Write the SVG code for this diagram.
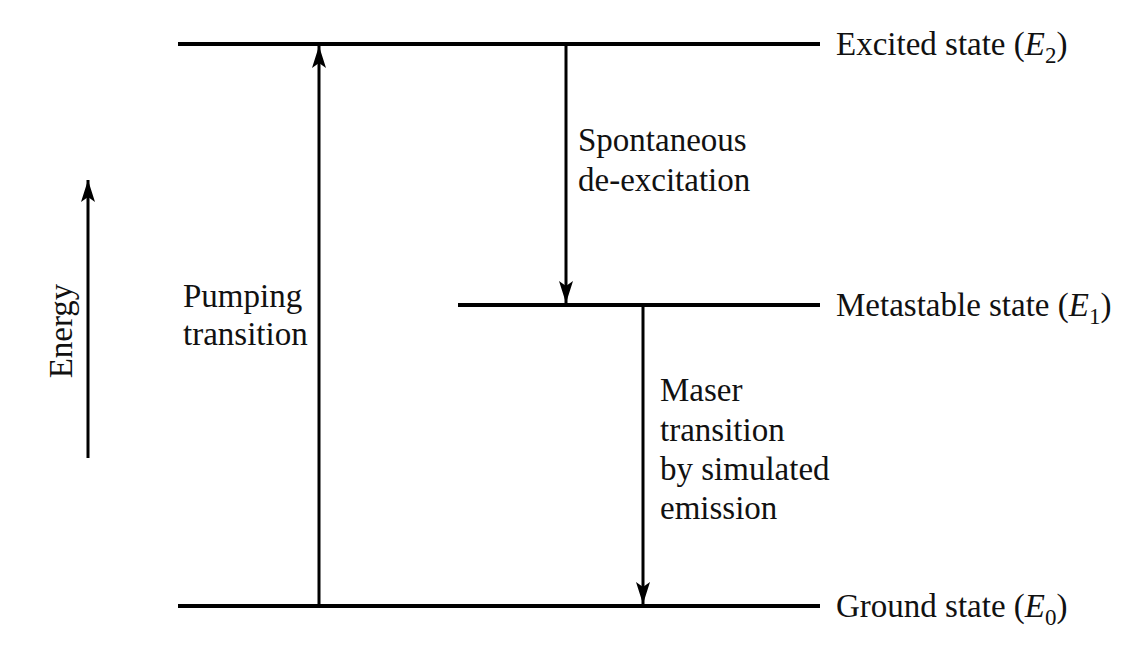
<svg xmlns="http://www.w3.org/2000/svg" width="1130" height="648" viewBox="0 0 1130 648">
<style>
.lvl{stroke:#000;stroke-width:4;fill:none}
.arr{stroke:#000;stroke-width:3;fill:none}
text{font-family:"Liberation Serif","Times New Roman",serif;font-size:33px;fill:#111}
.sub{font-size:23px}
</style>
<defs>
<marker id="ah" viewBox="0 0 22 14" refX="22" refY="7" markerWidth="22" markerHeight="14" markerUnits="userSpaceOnUse" orient="auto">
<path d="M0,0 L22,7 L0,14 L5,7 Z" fill="#000"/>
</marker>
</defs>
<rect width="1130" height="648" fill="#fff"/>
<g id="levels">
<g id="E2"><line class="lvl" x1="178" y1="44" x2="820" y2="44"/><text x="836" y="55">Excited state (<tspan font-style="italic">E</tspan><tspan class="sub" dy="8">2</tspan><tspan dy="-8">)</tspan></text></g>
<g id="E1"><line class="lvl" x1="458" y1="305" x2="820" y2="305"/><text x="836" y="316">Metastable state (<tspan font-style="italic">E</tspan><tspan class="sub" dy="8">1</tspan><tspan dy="-8">)</tspan></text></g>
<g id="E0"><line class="lvl" x1="178" y1="606" x2="820" y2="606"/><text x="836" y="617">Ground state (<tspan font-style="italic">E</tspan><tspan class="sub" dy="8">0</tspan><tspan dy="-8">)</tspan></text></g>
</g>
<g id="connectors">
<line class="arr" x1="319" y1="606" x2="319" y2="46" marker-end="url(#ah)"/>
<line class="arr" x1="566" y1="44" x2="566" y2="303" marker-end="url(#ah)"/>
<line class="arr" x1="643" y1="305" x2="643" y2="604" marker-end="url(#ah)"/>
<line class="arr" x1="88" y1="458" x2="88" y2="180" marker-end="url(#ah)"/>
</g>
<g id="labels">
<text x="578" y="151">Spontaneous</text>
<text x="578" y="191">de-excitation</text>
<text x="183" y="307">Pumping</text>
<text x="183" y="345">transition</text>
<text x="660" y="401">Maser</text>
<text x="660" y="441">transition</text>
<text x="660" y="480">by simulated</text>
<text x="660" y="519">emission</text>
<text transform="translate(72,331) rotate(-90)" text-anchor="middle">Energy</text>
</g>
</svg>
